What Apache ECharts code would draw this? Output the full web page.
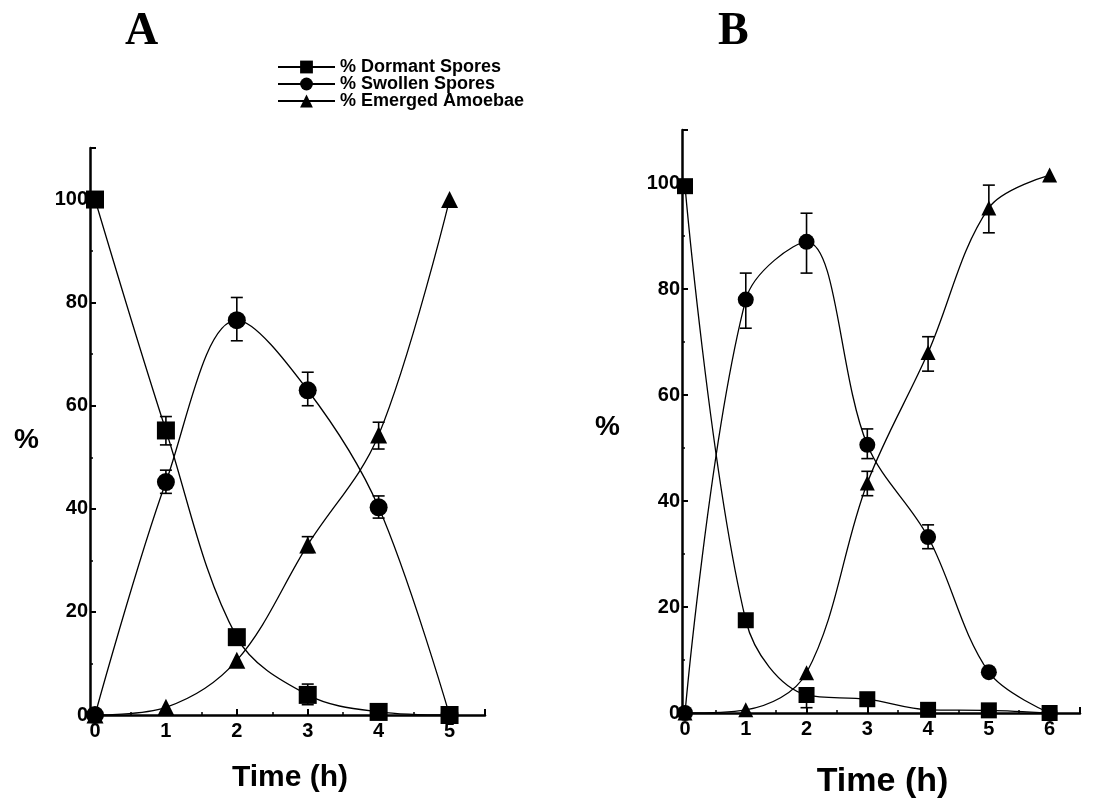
<!DOCTYPE html>
<html>
<head>
<meta charset="utf-8">
<script src="https://cdn.jsdelivr.net/npm/echarts@6/dist/echarts.min.js"></script>
<style>
  html, body { margin: 0; padding: 0; background: #fff; }
  #chart { width: 1098px; height: 806px; }
</style>
</head>
<body>
<div id="chart"></div>
<script>
// Panel A: time points and percentages
const timeA = [0, 1, 2, 3, 4, 5];
const dormantA = [100, 55.2, 15.1, 3.9, 0.6, 0];
const swollenA = [0, 45.2, 76.6, 63, 40.3, 0];
const emergedA = [0, 1.5, 10.6, 33, 54.3, 100];
// error bars [time, low, high]
const dormantErrA = [[1, 52.4, 57.9], [3, 2, 6]];
const swollenErrA = [[1, 43, 47.5], [2, 72.6, 81], [3, 60, 66.5], [4, 38.2, 42.5]];
const emergedErrA = [[3, 31.5, 34.6], [4, 51.6, 56.8]];

// Panel B
const timeB = [0, 1, 2, 3, 4, 5, 6];
const dormantB = [99.4, 17.5, 3.4, 2.6, 0.6, 0.5, 0];
const swollenB = [0, 78, 88.9, 50.6, 33.2, 7.7, 0];
const emergedB = [0, 0.6, 7.6, 43.4, 68, 95.3, 101.5];
const dormantErrB = [[2, 1, 3.4]];
const swollenErrB = [[1, 72.6, 83], [2, 83, 94.3], [3, 48, 53.6], [4, 31, 35.5]];
const emergedErrB = [[3, 41, 45.6], [4, 64.5, 71], [5, 90.6, 99.6]];

const names = ['% Dormant Spores', '% Swollen Spores', '% Emerged Amoebae'];
const symbols = ['rect', 'circle', 'triangle'];

const zip = (xs, ys) => xs.map((x, i) => [x, ys[i]]);

function lineSeries(i, xs, ys, gi, size) {
  return {
    type: 'line',
    name: names[i],
    xAxisIndex: gi,
    yAxisIndex: gi,
    data: zip(xs, ys),
    smooth: 0.35,
    symbol: symbols[i],
    symbolSize: i == 2 ? size - 1 : size,
    showAllSymbol: true,
    itemStyle: { color: '#000' },
    lineStyle: { color: '#000', width: 1.3 },
    z: 3,
  };
}

function errorSeries(data, gi) {
  return {
    type: 'custom',
    xAxisIndex: gi,
    yAxisIndex: gi,
    data,
    silent: true,
    z: 2,
    renderItem(params, api) {
      const x = api.value(0);
      const lo = api.coord([x, api.value(1)]);
      const hi = api.coord([x, api.value(2)]);
      const w = 6;
      const style = { stroke: '#000', lineWidth: 1.6 };
      return {
        type: 'group',
        children: [
          { type: 'line', shape: { x1: lo[0], y1: lo[1], x2: hi[0], y2: hi[1] }, style },
          { type: 'line', shape: { x1: hi[0] - w, y1: hi[1], x2: hi[0] + w, y2: hi[1] }, style },
          { type: 'line', shape: { x1: lo[0] - w, y1: lo[1], x2: lo[0] + w, y2: lo[1] }, style },
        ],
      };
    },
  };
}

const labelFont = { color: '#000', fontFamily: 'Liberation Sans', fontWeight: 'bold', fontSize: 20 };

function xAxis(gi, max, nameSize, nameGap) {
  return {
    type: 'value',
    gridIndex: gi,
    min: 0,
    max,
    interval: 1,
    name: 'Time (h)',
    nameLocation: 'middle',
    nameGap,
    nameTextStyle: {
      color: '#000', fontFamily: 'Liberation Sans', fontWeight: 'bold', fontSize: nameSize,
    },
    axisLine: { show: true, onZero: false, lineStyle: { color: '#000', width: 2.5 } },
    axisTick: { show: true, inside: true, length: 6, lineStyle: { color: '#000', width: 2 } },
    minorTick: { show: true, splitNumber: 2, length: 3, lineStyle: { color: '#000', width: 1.5 } },
    axisLabel: {
      ...labelFont,
      margin: 6,
      formatter: (v) => (Number.isInteger(v) ? String(v) : ''),
    },
    splitLine: { show: false },
    minorSplitLine: { show: false },
  };
}

function yAxis(gi, offset) {
  return {
    type: 'value',
    gridIndex: gi,
    min: 0,
    max: 110,
    interval: 20,
    offset,
    axisLine: { show: true, onZero: false, lineStyle: { color: '#000', width: 2.5 } },
    axisTick: { show: true, inside: true, length: 6, lineStyle: { color: '#000', width: 2 } },
    minorTick: { show: true, splitNumber: 2, length: 3, lineStyle: { color: '#000', width: 1.5 } },
    axisLabel: {
      ...labelFont,
      margin: 2,
      formatter: (v) => (v > 100 ? '' : String(v)),
    },
    splitLine: { show: false },
    minorSplitLine: { show: false },
  };
}

const percentStyle = {
  text: '%', fill: '#000', fontFamily: 'Liberation Sans', fontWeight: 'bold', fontSize: 28,
};

const chart = echarts.init(document.getElementById('chart'), null, { renderer: 'canvas' });

const option = {
  animation: false,
  backgroundColor: '#fff',
  title: [
    {
      text: 'A', left: 120, top: 4,
      textStyle: { fontFamily: 'Liberation Serif', fontWeight: 'bold', fontSize: 46, color: '#000' },
    },
    {
      text: 'B', left: 713, top: 4,
      textStyle: { fontFamily: 'Liberation Serif', fontWeight: 'bold', fontSize: 46, color: '#000' },
    },
  ],
  graphic: [
    { type: 'text', left: 14, top: 426, style: percentStyle },
    { type: 'text', left: 595, top: 413, style: percentStyle },
  ],
  legend: {
    data: names,
    orient: 'vertical',
    left: 272,
    top: 53,
    itemWidth: 57,
    itemHeight: 16,
    itemGap: -1,
    textStyle: {
      color: '#000', fontFamily: 'Liberation Sans', fontWeight: 'bold', fontSize: 18, lineHeight: 16,
    },
  },
  grid: [
    { left: 95, top: 148, width: 390, height: 567, outerBoundsMode: 'none' },
    { left: 685, top: 130, width: 395, height: 583, outerBoundsMode: 'none' },
  ],
  xAxis: [xAxis(0, 5.5, 30, 48), xAxis(1, 6.5, 34, 52)],
  yAxis: [yAxis(0, 5), yAxis(1, 3)],
  series: [
    lineSeries(0, timeA, dormantA, 0, 18),
    lineSeries(1, timeA, swollenA, 0, 18),
    lineSeries(2, timeA, emergedA, 0, 18),
    errorSeries(dormantErrA, 0),
    errorSeries(swollenErrA, 0),
    errorSeries(emergedErrA, 0),
    lineSeries(0, timeB, dormantB, 1, 16),
    lineSeries(1, timeB, swollenB, 1, 16),
    lineSeries(2, timeB, emergedB, 1, 16),
    errorSeries(dormantErrB, 1),
    errorSeries(swollenErrB, 1),
    errorSeries(emergedErrB, 1),
  ],
};

chart.setOption(option);
</script>
</body>
</html>
